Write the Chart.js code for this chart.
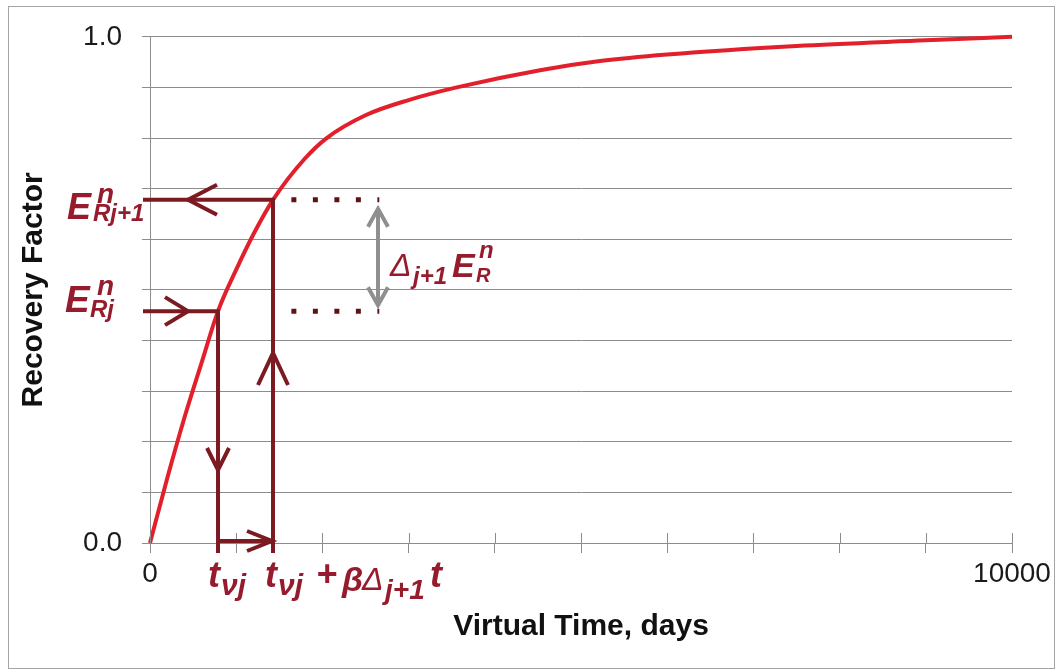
<!DOCTYPE html>
<html>
<head>
<meta charset="utf-8">
<script src="https://cdn.jsdelivr.net/npm/chart.js@4.4.1/dist/chart.umd.min.js"></script>
<style>
  html, body { margin: 0; padding: 0; background: #fff; }
</style>
</head>
<body>
<canvas id="rf" width="1059" height="669"></canvas>
<script>
// recovery factor vs virtual time
const timeDays = [0, 200, 400, 600, 789, 1000, 1200, 1427, 1800, 2050, 2500, 3000, 3558, 4524, 5220, 6000, 7500, 9000, 10000];
const recovery = [0, 0.128, 0.248, 0.357, 0.458, 0.54, 0.61, 0.678, 0.76, 0.80, 0.845, 0.875, 0.90, 0.934, 0.952, 0.965, 0.982, 0.993, 1.0];

// step markers: t_vj and t_vj + beta*delta t, with the matching recovery factors
const stepTimes = [789, 1427];
const stepRecovery = [0.458, 0.678];
const dottedSpan = [1640, 2660];   // dotted guides, in days
const deltaArrowTime = 2645;       // grey double arrow
const xTickLabels = [0, 10000];
const yTickLabels = [0, 1];

const FAM = "'Liberation Sans', Arial, sans-serif";
const MAROON = '#7c1a22';
const LABEL = '#961c2d';
const GRID = '#8c8c8c';

function txt(ctx, s, x, y, size, weight) {
    ctx.font = 'italic ' + (weight || 'bold') + ' ' + size + 'px ' + FAM;
    ctx.fillText(s, x, y);
}

// open "V" arrow head, tip at (tx, ty)
function chevron(ctx, tx, ty, dx, dy, horiz) {
    ctx.beginPath();
    if (horiz) {
        ctx.moveTo(tx + dx, ty - dy); ctx.lineTo(tx, ty); ctx.lineTo(tx + dx, ty + dy);
    } else {
        ctx.moveTo(tx - dx, ty + dy); ctx.lineTo(tx, ty); ctx.lineTo(tx + dx, ty + dy);
    }
    ctx.stroke();
}

function line(ctx, x1, y1, x2, y2) {
    ctx.beginPath(); ctx.moveTo(x1, y1); ctx.lineTo(x2, y2); ctx.stroke();
}

const framePlugin = {
    id: 'frame',
    beforeDraw(chart) {
        const ctx = chart.ctx;
        ctx.save();
        ctx.fillStyle = '#fff';
        ctx.fillRect(0, 0, chart.width, chart.height);
        ctx.strokeStyle = '#a5a5a5';
        ctx.lineWidth = 1;
        ctx.strokeRect(8.5, 6.5, 1046, 662);
        ctx.restore();
    }
};

const annotatePlugin = {
    id: 'annotate',
    afterDatasetsDraw(chart) {
        const ctx = chart.ctx;
        const xs = chart.scales.x, ys = chart.scales.y;
        const L = xs.left;
        const x1 = xs.getPixelForValue(stepTimes[0]);
        const x2 = xs.getPixelForValue(stepTimes[1]);
        const y1 = ys.getPixelForValue(stepRecovery[0]);
        const y2 = ys.getPixelForValue(stepRecovery[1]);
        const y0 = ys.getPixelForValue(0);
        ctx.save();

        // x ticks crossing above the axis
        ctx.strokeStyle = GRID; ctx.lineWidth = 1;
        xs.ticks.forEach(t => {
            const px = Math.round(xs.getPixelForValue(t.value)) + 0.5;
            line(ctx, px, y0 - 10, px, y0);
        });

        // maroon construction lines
        ctx.strokeStyle = MAROON;
        ctx.lineWidth = 4;
        ctx.lineCap = 'butt';
        ctx.lineJoin = 'miter';
        line(ctx, L - 7, y2, x2 + 2, y2);
        line(ctx, L - 7, y1, x1 + 2, y1);
        line(ctx, x1, y1, x1, y0 + 10);
        line(ctx, x2, y2, x2, y0 + 10);
        line(ctx, x1, y0 - 2, x2, y0 - 2);
        chevron(ctx, L + 38, y2, 29, 15, true);
        chevron(ctx, L + 38, y1, -23, 14, true);
        chevron(ctx, x1, y0 - 73, 11, -22, false);
        chevron(ctx, x2, y0 - 190, 15, 32, false);
        chevron(ctx, x2 - 1, y0 - 2, -25, 10, true);

        // dotted guides
        ctx.strokeStyle = '#5e1218';
        ctx.lineWidth = 5;
        ctx.setLineDash([5, 16.5]);
        const d1 = xs.getPixelForValue(dottedSpan[0]);
        const d2 = xs.getPixelForValue(dottedSpan[1]);
        line(ctx, d1, y2, d2, y2);
        line(ctx, d1, y1, d2, y1);
        ctx.setLineDash([]);

        // grey double arrow
        const gx = xs.getPixelForValue(deltaArrowTime);
        ctx.strokeStyle = '#8f8f8f';
        ctx.lineWidth = 4;
        line(ctx, gx, y2 + 10, gx, y1 - 7);
        chevron(ctx, gx, y2 + 9, 10, 18, false);
        chevron(ctx, gx, y1 - 6, 10, -18, false);

        // labels
        ctx.fillStyle = LABEL;
        ctx.textBaseline = 'alphabetic';
        ctx.textAlign = 'left';
        txt(ctx, 'E', L - 83, y2 + 19, 36);
        txt(ctx, 'n', L - 53, y2 + 3, 28);
        txt(ctx, 'Rj+1', L - 57, y2 + 21, 24);

        txt(ctx, 'E', L - 85, y1 + 1, 37);
        txt(ctx, 'n', L - 53, y1 - 16, 28);
        txt(ctx, 'Rj', L - 60, y1 + 6, 24);

        const ym = (y1 + y2) / 2;
        txt(ctx, 'Δ', gx + 12, ym + 21, 32, 'normal');
        txt(ctx, 'j+1', gx + 35, ym + 29, 24);
        txt(ctx, 'E', gx + 74, ym + 22, 34);
        txt(ctx, 'n', gx + 101, ym + 3, 24);
        txt(ctx, 'R', gx + 98, ym + 27, 20);

        txt(ctx, 't', x1 - 10, y0 + 44, 36);
        txt(ctx, 'νj', x1 + 3, y0 + 52, 30);
        txt(ctx, 't', x2 - 8, y0 + 44, 36);
        txt(ctx, 'νj', x2 + 5, y0 + 52, 30);
        txt(ctx, '+', x2 + 43, y0 + 43, 36);
        txt(ctx, 'β', x2 + 69, y0 + 48, 34);
        txt(ctx, 'Δ', x2 + 89, y0 + 47, 32, 'normal');
        txt(ctx, 'j+1', x2 + 112, y0 + 56, 28);
        txt(ctx, 't', x2 + 157, y0 + 44, 36);
        ctx.restore();
    }
};

const points = timeDays.map((t, i) => ({ x: t, y: recovery[i] }));

new Chart(document.getElementById('rf'), {
    type: 'scatter',
    data: {
        datasets: [{
            label: 'Recovery Factor',
            data: points,
            showLine: true,
            borderColor: '#e2202c',
            borderWidth: 4,
            pointRadius: 0,
            cubicInterpolationMode: 'monotone',
            clip: false
        }]
    },
    options: {
        responsive: false,
        animation: false,
        layout: { padding: { left: 8, top: 36, right: 47, bottom: 0 } },
        plugins: { legend: { display: false }, tooltip: { enabled: false } },
        scales: {
            x: {
                type: 'linear',
                min: 0, max: 10000,
                afterFit: s => { s.height = 126; },
                grid: { drawOnChartArea: false, color: GRID, tickLength: 10, tickColor: GRID },
                border: { color: GRID, width: 1 },
                ticks: {
                    stepSize: 1000,
                    padding: 4,
                    maxRotation: 0,
                    autoSkip: false,
                    color: '#1a1a1a',
                    font: { family: FAM, size: 28 },
                    callback: v => xTickLabels.includes(v) ? String(v) : ''
                },
                title: {
                    display: true,
                    text: 'Virtual Time, days',
                    color: '#111',
                    font: { family: FAM, size: 30, weight: 'bold' },
                    padding: { top: 4, bottom: 24 }
                }
            },
            y: {
                min: 0, max: 1,
                afterFit: s => { s.width = 142; },
                grid: { color: GRID, lineWidth: 1, tickLength: 8 },
                border: { color: GRID, width: 1 },
                ticks: {
                    stepSize: 0.1,
                    padding: 20,
                    autoSkip: false,
                    color: '#1a1a1a',
                    font: { family: FAM, size: 28 },
                    callback: v => yTickLabels.some(k => Math.abs(k - v) < 1e-9) ? v.toFixed(1) : ''
                },
                title: {
                    display: true,
                    text: 'Recovery Factor',
                    color: '#111',
                    font: { family: FAM, size: 30, weight: 'bold' },
                    padding: { top: 8, bottom: 0 }
                }
            }
        }
    },
    plugins: [framePlugin, annotatePlugin]
});
</script>
</body>
</html>
